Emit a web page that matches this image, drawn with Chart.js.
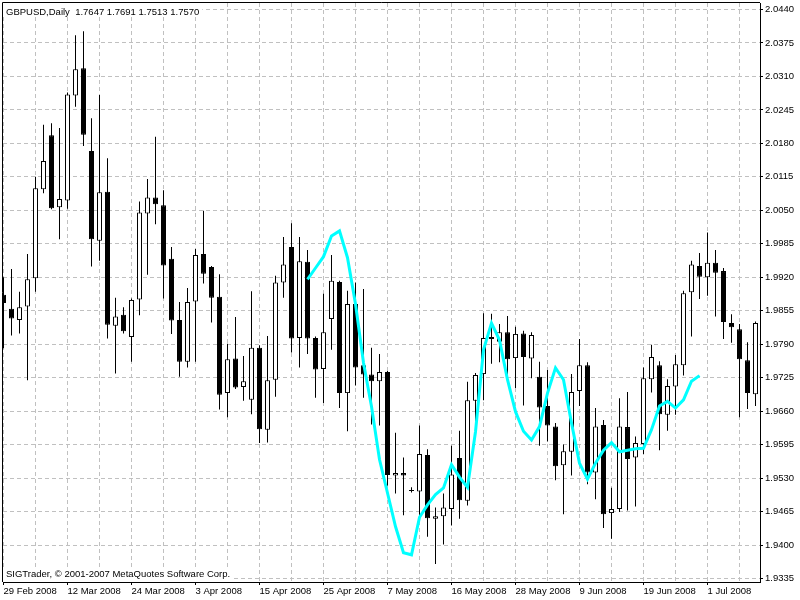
<!DOCTYPE html>
<html>
<head>
<meta charset="utf-8">
<style>
html,body{margin:0;padding:0;background:#ffffff;}
canvas{display:block;}
</style>
<script src="https://cdn.jsdelivr.net/npm/chart.js@4/dist/chart.umd.min.js"></script>
</head>
<body>
<canvas id="c" width="800" height="600"></canvas>
<script>
const dates = ['29 Feb 2008','3 Mar 2008','4 Mar 2008','5 Mar 2008','6 Mar 2008','7 Mar 2008','10 Mar 2008','11 Mar 2008','12 Mar 2008','13 Mar 2008','14 Mar 2008','17 Mar 2008','18 Mar 2008','19 Mar 2008','20 Mar 2008','21 Mar 2008','24 Mar 2008','25 Mar 2008','26 Mar 2008','27 Mar 2008','28 Mar 2008','31 Mar 2008','1 Apr 2008','2 Apr 2008','3 Apr 2008','4 Apr 2008','7 Apr 2008','8 Apr 2008','9 Apr 2008','10 Apr 2008','11 Apr 2008','14 Apr 2008','15 Apr 2008','16 Apr 2008','17 Apr 2008','18 Apr 2008','21 Apr 2008','22 Apr 2008','23 Apr 2008','24 Apr 2008','25 Apr 2008','28 Apr 2008','29 Apr 2008','30 Apr 2008','1 May 2008','2 May 2008','5 May 2008','6 May 2008','7 May 2008','8 May 2008','9 May 2008','11 May 2008','12 May 2008','13 May 2008','14 May 2008','15 May 2008','16 May 2008','19 May 2008','20 May 2008','21 May 2008','22 May 2008','23 May 2008','26 May 2008','27 May 2008','28 May 2008','29 May 2008','30 May 2008','2 Jun 2008','3 Jun 2008','4 Jun 2008','5 Jun 2008','6 Jun 2008','9 Jun 2008','10 Jun 2008','11 Jun 2008','12 Jun 2008','13 Jun 2008','16 Jun 2008','17 Jun 2008','18 Jun 2008','19 Jun 2008','20 Jun 2008','23 Jun 2008','24 Jun 2008','25 Jun 2008','26 Jun 2008','27 Jun 2008','30 Jun 2008','1 Jul 2008','2 Jul 2008','3 Jul 2008','4 Jul 2008','7 Jul 2008','8 Jul 2008','9 Jul 2008'];

const open = [1.9886,1.9859,1.9837,1.9863,1.9918,2.0091,2.0196,2.0056,2.0069,2.0273,
2.0326,2.0165,1.9991,2.0086,1.9826,1.9847,1.9804,1.9877,2.0044,2.0075,
2.0060,1.9956,1.9837,1.9756,1.9873,1.9965,1.9940,1.9882,1.9695,1.9762,
1.9707,1.9682,1.9783,1.9624,1.9721,1.9910,1.9979,1.9802,1.9950,1.9802,
1.9742,1.9839,1.9911,1.9695,1.9868,1.9749,1.9731,1.9718,1.9736,1.9535,
1.9540,1.9507,1.9504,1.9575,1.9451,1.9456,1.9470,1.9569,1.9486,1.9680,
1.9732,1.9804,1.9795,1.9813,1.9763,1.9811,1.9762,1.9727,1.9670,1.9630,
1.9555,1.9581,1.9699,1.9749,1.9541,1.9633,1.9462,1.9470,1.9629,1.9570,
1.9596,1.9722,1.9749,1.9653,1.9708,1.9749,1.9891,1.9942,1.9920,1.9948,
1.9932,1.9831,1.9819,1.9759,1.9693];

const high = [1.9920,1.9936,1.9892,1.9965,2.0115,2.0216,2.0219,2.0210,2.0279,2.0390,
2.0398,2.0229,2.0274,2.0151,1.9880,1.9862,1.9879,2.0067,2.0111,2.0193,
2.0089,1.9979,1.9872,1.9899,1.9975,2.0049,1.9942,1.9926,1.9791,1.9843,
1.9767,1.9893,1.9788,1.9806,1.9923,1.9998,2.0025,1.9998,1.9973,1.9805,
1.9888,1.9963,1.9913,1.9894,1.9910,1.9897,1.9783,1.9771,1.9738,1.9618,
1.9570,1.9512,1.9632,1.9586,1.9473,1.9500,1.9593,1.9622,1.9717,1.9734,
1.9850,1.9849,1.9829,1.9845,1.9824,1.9816,1.9813,1.9756,1.9740,1.9637,
1.9595,1.9732,1.9800,1.9755,1.9666,1.9643,1.9511,1.9685,1.9697,1.9611,
1.9745,1.9789,1.9757,1.9722,1.9769,1.9894,1.9952,1.9967,2.0007,1.9973,
1.9938,1.9848,1.9829,1.9794,1.9834];

const low = [1.9782,1.9807,1.9811,1.9720,1.9892,2.0083,2.0052,1.9994,2.0053,2.0251,
2.0175,1.9941,1.9952,1.9801,1.9733,1.9811,1.9756,1.9846,1.9925,2.0023,
1.9879,1.9810,1.9727,1.9745,1.9756,1.9908,1.9832,1.9663,1.9648,1.9703,
1.9680,1.9654,1.9598,1.9599,1.9688,1.9880,1.9774,1.9745,1.9771,1.9686,
1.9676,1.9779,1.9666,1.9621,1.9710,1.9686,1.9634,1.9632,1.9515,1.9500,
1.9458,1.9502,1.9457,1.9416,1.9363,1.9401,1.9438,1.9451,1.9477,1.9621,
1.9681,1.9752,1.9755,1.9722,1.9705,1.9671,1.9724,1.9593,1.9601,1.9526,
1.9460,1.9535,1.9670,1.9518,1.9489,1.9433,1.9412,1.9464,1.9467,1.9475,
1.9577,1.9696,1.9584,1.9622,1.9653,1.9729,1.9805,1.9878,1.9884,1.9844,
1.9800,1.9793,1.9648,1.9664,1.9670];

const close = [1.9870,1.9840,1.9862,1.9916,2.0093,2.0146,2.0054,2.0072,2.0275,2.0324,
2.0197,1.9994,2.0085,1.9828,1.9844,1.9815,1.9876,2.0046,2.0075,2.0062,
1.9943,1.9836,1.9756,1.9872,1.9963,1.9927,1.9880,1.9692,1.9761,1.9706,
1.9718,1.9783,1.9625,1.9720,1.9910,1.9945,1.9801,1.9951,1.9801,1.9741,
1.9813,1.9913,1.9695,1.9868,1.9745,1.9731,1.9718,1.9736,1.9536,1.9540,
1.9535,1.9505,1.9577,1.9452,1.9456,1.9473,1.9537,1.9487,1.9681,1.9730,
1.9802,1.9800,1.9813,1.9761,1.9810,1.9765,1.9808,1.9667,1.9632,1.9553,
1.9582,1.9697,1.9749,1.9541,1.9630,1.9460,1.9470,1.9630,1.9567,1.9598,
1.9724,1.9765,1.9654,1.9709,1.9751,1.9889,1.9945,1.9921,1.9948,1.9929,
1.9833,1.9823,1.9761,1.9695,1.9831];

const maFirstBar = 38;
const maValues = [1.9916,1.9938,1.9960,2.0000,2.0010,1.9958,1.9868,1.9754,1.9669,1.9566,
1.9501,1.9436,1.9385,1.9381,1.9454,1.9478,1.9498,1.9511,1.9556,1.9532,
1.9512,1.9620,1.9779,1.9831,1.9798,1.9721,1.9659,1.9621,1.9604,1.9630,
1.9695,1.9744,1.9721,1.9637,1.9559,1.9528,1.9559,1.9584,1.9599,1.9581,
1.9584,1.9587,1.9588,1.9624,1.9670,1.9679,1.9666,1.9682,1.9718,1.9729];

const priceTicks = [1.9335,1.9400,1.9465,1.9530,1.9595,1.9660,1.9725,1.9790,1.9855,1.9920,1.9985,2.0050,2.0115,2.0180,2.0245,2.0310,2.0375,2.0440];
const dateLabelBars = [0,8,16,24,32,40,48,56,64,72,80,88];
const gridBars = [0,4,8,12,16,20,24,28,32,36,40,44,48,52,56,60,64,68,72,76,80,84,88,92];

const headerText = 'GBPUSD,Daily  1.7647 1.7691 1.7513 1.7570';
const footerText = 'SIGTrader, \u00A9 2001-2007 MetaQuotes Software Corp.';

const FONT_FAMILY = '"Liberation Sans", Arial, sans-serif';
const FONT_SIZE = 9.5;

Chart.defaults.font.family = FONT_FAMILY;
Chart.defaults.font.size = FONT_SIZE;
Chart.defaults.color = '#000000';

const bodies = open.map((o, i) => ({x: i, y: [o, close[i]]}));
const wicks = low.map((l, i) => ({x: i, y: [l, high[i]]}));
const maPoints = maValues.map((v, k) => ({x: maFirstBar + k, y: v}));

const framePlugin = {
  id: 'frameAndText',
  afterDraw(chart) {
    const ctx = chart.ctx;
    const a = chart.chartArea;
    ctx.save();
    ctx.strokeStyle = '#000000';
    ctx.lineWidth = 1;
    ctx.beginPath();
    ctx.moveTo(a.left - 0.5, a.bottom);
    ctx.lineTo(a.left - 0.5, a.top - 0.5);
    ctx.lineTo(a.right, a.top - 0.5);
    ctx.stroke();
    ctx.font = FONT_SIZE + 'px ' + FONT_FAMILY;
    ctx.textBaseline = 'middle';
    const hw = ctx.measureText(headerText).width;
    ctx.fillStyle = '#ffffff';
    ctx.fillRect(a.left, a.top, hw + 6, 14);
    const fw = ctx.measureText(footerText).width;
    ctx.fillRect(a.left, a.bottom - 15, fw + 6, 14);
    ctx.fillStyle = '#000000';
    ctx.fillText(headerText, a.left + 3, a.top + 9);
    ctx.fillText(footerText, a.left + 3, a.bottom - 8);
    ctx.restore();
  }
};

new Chart(document.getElementById('c'), {
  type: 'bar',
  data: {
    datasets: [
      {
        type: 'line',
        data: maPoints,
        borderColor: '#00FFFF',
        borderWidth: 3,
        pointRadius: 0,
        tension: 0,
        fill: false,
        order: 0
      },
      {
        type: 'bar',
        data: bodies,
        grouped: false,
        barThickness: 5,
        borderWidth: 1,
        borderSkipped: false,
        inflateAmount: 0,
        borderColor: '#000000',
        backgroundColor: (c) => (close[c.dataIndex] >= open[c.dataIndex] ? '#ffffff' : '#000000'),
        order: 1
      },
      {
        type: 'bar',
        data: wicks,
        grouped: false,
        barThickness: 1,
        borderWidth: 0,
        inflateAmount: 0,
        backgroundColor: '#000000',
        order: 2
      }
    ]
  },
  options: {
    responsive: false,
    animation: false,
    events: [],
    layout: { padding: { left: 3, top: 3, right: 0, bottom: 0 } },
    plugins: { legend: { display: false }, tooltip: { enabled: false }, title: { display: false } },
    scales: {
      x: {
        type: 'linear',
        offset: false,
        min: -0.0625,
        max: 94.5625,
        afterBuildTicks: (s) => { s.ticks = gridBars.map(v => ({ value: v })); },
        afterFit: (s) => { s.height = 18; s.paddingLeft = 0; s.paddingRight = 0; },
        grid: {
          offset: false,
          color: '#c0c0c0',
          lineWidth: 1,
          tickLength: 3,
          tickColor: (c) => (c.tick && dateLabelBars.includes(c.tick.value)) ? '#000000' : 'rgba(0,0,0,0)'
        },
        border: { display: true, color: '#000000', width: 1, dash: [4, 3] },
        ticks: {
          autoSkip: false,
          maxRotation: 0,
          minRotation: 0,
          align: 'start',
          padding: 1,
          color: '#000000',
          callback: (v) => dateLabelBars.includes(v) ? dates[v] : ''
        }
      },
      y: {
        position: 'right',
        min: 1.93282,
        max: 2.045262,
        afterBuildTicks: (s) => { s.ticks = priceTicks.map(v => ({ value: v })); },
        afterFit: (s) => { s.width = 40; s.paddingTop = 0; s.paddingBottom = 0; },
        grid: { color: '#c0c0c0', lineWidth: 1, tickLength: 3, tickColor: '#000000' },
        border: { display: true, color: '#000000', width: 1, dash: [4, 3] },
        ticks: {
          padding: 2,
          color: '#000000',
          callback: (v) => Number(v).toFixed(4)
        }
      }
    }
  },
  plugins: [framePlugin]
});
</script>
</body>
</html>
